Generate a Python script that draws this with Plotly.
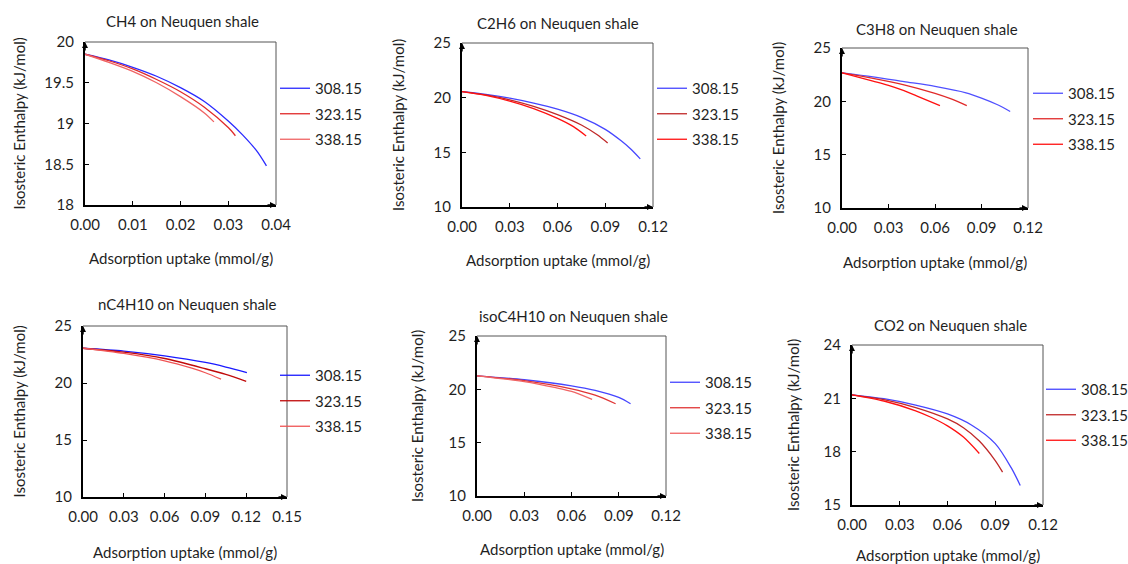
import plotly.graph_objects as go

W, H = 1128, 564

temperatures = ["308.15", "323.15", "338.15"]

# ---- CH4 ----
ch4_x_308 = [0, 0.005, 0.01, 0.015, 0.02, 0.025, 0.03, 0.033, 0.036, 0.038]
ch4_y_308 = [19.85, 19.78, 19.69, 19.58, 19.44, 19.27, 19.03, 18.86, 18.66, 18.48]
ch4_x_323 = [0, 0.005, 0.01, 0.015, 0.02, 0.025, 0.03, 0.0315]
ch4_y_323 = [19.85, 19.77, 19.67, 19.54, 19.39, 19.20, 18.95, 18.85]
ch4_x_338 = [0, 0.005, 0.01, 0.015, 0.02, 0.025, 0.027]
ch4_y_338 = [19.85, 19.75, 19.64, 19.50, 19.33, 19.13, 19.02]

# ---- C2H6 ----
c2h6_x_308 = [0, 0.015, 0.03, 0.045, 0.06, 0.075, 0.09, 0.1, 0.106, 0.112]
c2h6_y_308 = [20.55, 20.3, 19.95, 19.5, 18.95, 18.2, 17.1, 16.05, 15.3, 14.4]
c2h6_x_323 = [0, 0.015, 0.03, 0.045, 0.06, 0.075, 0.085, 0.0915]
c2h6_y_323 = [20.55, 20.25, 19.8, 19.2, 18.45, 17.5, 16.6, 15.85]
c2h6_x_338 = [0, 0.015, 0.03, 0.045, 0.06, 0.07, 0.078]
c2h6_y_338 = [20.55, 20.2, 19.68, 19.0, 18.1, 17.35, 16.5]

# ---- C3H8 ----
c3h8_x_308 = [0, 0.02, 0.04, 0.06, 0.08, 0.09, 0.1, 0.1085]
c3h8_y_308 = [22.67, 22.3, 21.85, 21.4, 20.8, 20.3, 19.7, 19.05]
c3h8_x_323 = [0, 0.02, 0.04, 0.06, 0.07, 0.0805]
c3h8_y_323 = [22.67, 22.15, 21.55, 20.75, 20.25, 19.6]
c3h8_x_338 = [0, 0.02, 0.03, 0.04, 0.05, 0.0632]
c3h8_y_338 = [22.67, 21.9, 21.5, 21.0, 20.4, 19.6]

# ---- nC4H10 ----
nc4_x_308 = [0, 0.03, 0.06, 0.09, 0.105, 0.1205]
nc4_y_308 = [23.05, 22.8, 22.38, 21.8, 21.4, 20.92]
nc4_x_323 = [0, 0.03, 0.06, 0.09, 0.105, 0.12]
nc4_y_323 = [23.05, 22.7, 22.15, 21.25, 20.75, 20.14]
nc4_x_338 = [0, 0.03, 0.06, 0.08, 0.09, 0.1015]
nc4_y_338 = [23.05, 22.6, 21.95, 21.3, 20.9, 20.34]

# ---- isoC4H10 ----
ic4_x_308 = [0, 0.03, 0.06, 0.075, 0.09, 0.0975]
ic4_y_308 = [21.27, 20.9, 20.33, 19.9, 19.24, 18.65]
ic4_x_323 = [0, 0.03, 0.06, 0.075, 0.088]
ic4_y_323 = [21.27, 20.82, 20.05, 19.45, 18.65]
ic4_x_338 = [0, 0.03, 0.05, 0.06, 0.0731]
ic4_y_338 = [21.27, 20.72, 20.15, 19.8, 19.05]

# ---- CO2 ----
co2_x_308 = [0, 0.02, 0.04, 0.06, 0.075, 0.09, 0.1, 0.1057]
co2_y_308 = [21.2, 20.98, 20.62, 20.12, 19.5, 18.45, 17.1, 16.1]
co2_x_323 = [0, 0.02, 0.04, 0.06, 0.07, 0.08, 0.09, 0.0946]
co2_y_323 = [21.2, 20.93, 20.48, 19.84, 19.35, 18.6, 17.5, 16.85]
co2_x_338 = [0, 0.02, 0.04, 0.05, 0.06, 0.07, 0.08]
co2_y_338 = [21.2, 20.85, 20.3, 19.92, 19.45, 18.82, 17.9]

titles = ["CH4 on Neuquen shale", "C2H6 on Neuquen shale", "C3H8 on Neuquen shale",
          "nC4H10 on Neuquen shale", "isoC4H10 on Neuquen shale", "CO2 on Neuquen shale"]
x_ranges = [(0, 0.04), (0, 0.12), (0, 0.12), (0, 0.15), (0, 0.12), (0, 0.12)]
x_dticks = [0.01, 0.03, 0.03, 0.03, 0.03, 0.03]
y_ranges = [(18, 20), (10, 25), (10, 25), (10, 25), (10, 25), (15, 24)]
y_dticks = [0.5, 5, 5, 5, 5, 3]

series = [
    [(ch4_x_308, ch4_y_308), (ch4_x_323, ch4_y_323), (ch4_x_338, ch4_y_338)],
    [(c2h6_x_308, c2h6_y_308), (c2h6_x_323, c2h6_y_323), (c2h6_x_338, c2h6_y_338)],
    [(c3h8_x_308, c3h8_y_308), (c3h8_x_323, c3h8_y_323), (c3h8_x_338, c3h8_y_338)],
    [(nc4_x_308, nc4_y_308), (nc4_x_323, nc4_y_323), (nc4_x_338, nc4_y_338)],
    [(ic4_x_308, ic4_y_308), (ic4_x_323, ic4_y_323), (ic4_x_338, ic4_y_338)],
    [(co2_x_308, co2_y_308), (co2_x_323, co2_y_323), (co2_x_338, co2_y_338)],
]

# pixel geometry of each panel: plot box (left, top, right, bottom), title centre,
# y-title x, x-title y, legend text start x and middle row y
panels = [
    dict(box=(85, 42, 276, 205), title=(182, 21), ytitle=18, xtitle=258, leg=(315, 114)),
    dict(box=(462, 43, 653, 207), title=(558, 23), ytitle=398, xtitle=260, leg=(692, 114)),
    dict(box=(842, 48, 1028, 208), title=(937, 29), ytitle=778, xtitle=262, leg=(1068, 119)),
    dict(box=(83, 326, 287, 497), title=(187, 304), ytitle=18, xtitle=552, leg=(315, 401)),
    dict(box=(477, 336, 666, 496), title=(573, 316), ytitle=417, xtitle=549, leg=(705, 408)),
    dict(box=(852, 345, 1043, 505), title=(950, 325), ytitle=793, xtitle=555, leg=(1081, 415)),
]
palettes = [
    ["#2a2aff", "#e02a2a", "#f06464"],
    ["#4646ff", "#c02828", "#ff1010"],
    ["#5050ff", "#e02a2a", "#ff1010"],
    ["#1a1aff", "#c00a0a", "#f05555"],
    ["#4646ff", "#e03535", "#f06464"],
    ["#4646ff", "#c02828", "#ff1010"],
]

FONT = "Lato, 'Open Sans', sans-serif"
TXT = "#1f1f1f"

fig = go.Figure()
layout = dict(
    width=W, height=H, margin=dict(l=0, r=0, t=0, b=0, autoexpand=False),
    paper_bgcolor="white", plot_bgcolor="white",
    font=dict(family=FONT, size=14, color=TXT),
    annotations=[], shapes=[],
)

for i, p in enumerate(panels):
    n = i + 1
    sfx = "" if n == 1 else str(n)
    xa, ya = "x" + sfx, "y" + sfx
    legname = "legend" + sfx
    l, t, r, b = p["box"]
    for j, (xs, ys) in enumerate(series[i]):
        fig.add_trace(go.Scatter(
            x=xs, y=ys, mode="lines", name=temperatures[j],
            line=dict(color=palettes[i][j], width=1.3, shape="spline", smoothing=0.8),
            xaxis=xa, yaxis=ya, legend=legname, legendgroup=f"g{n}{j}",
        ))
    layout["xaxis" + sfx] = dict(
        domain=[l / W, r / W], anchor=ya, range=list(x_ranges[i]), dtick=x_dticks[i],
        tick0=0, tickformat=".2f", showgrid=False, zeroline=False, automargin=False,
        showline=True, linecolor="black", linewidth=2, mirror=False,
        ticks="inside", ticklen=4, tickwidth=1, tickcolor="black",
        tickfont=dict(size=15, color=TXT), ticklabelstandoff=5,
    )
    layout["yaxis" + sfx] = dict(
        domain=[1 - b / H, 1 - t / H], anchor=xa, range=list(y_ranges[i]), dtick=y_dticks[i],
        tick0=y_ranges[i][0], showgrid=False, zeroline=False, automargin=False,
        showline=True, linecolor="black", linewidth=2, mirror=False,
        ticks="inside", ticklen=4, tickwidth=1, tickcolor="black",
        tickfont=dict(size=15, color=TXT), ticklabelstandoff=6,
    )
    # thin frame on the top and right sides
    layout["shapes"].append(dict(
        type="path", xref=xa + " domain", yref=ya + " domain",
        path="M0,1 L1,1 L1,0", line=dict(color="#555555", width=1),
    ))
    # arrow tips at the ends of both axes
    layout["annotations"].append(dict(
        xref=xa + " domain", yref=ya + " domain", x=0, y=1, ax=0, ay=10,
        text="", showarrow=True, arrowhead=2, arrowsize=0.8, arrowwidth=1.5,
        arrowcolor="black",
    ))
    layout["annotations"].append(dict(
        xref=xa + " domain", yref=ya + " domain", x=1, y=0, ax=-10, ay=0,
        text="", showarrow=True, arrowhead=2, arrowsize=0.8, arrowwidth=1.5,
        arrowcolor="black",
    ))
    tx, ty = p["title"]
    layout["annotations"].append(dict(
        xref="paper", yref="paper", x=tx / W, y=1 - ty / H, text=titles[i],
        showarrow=False, xanchor="center", yanchor="middle",
        font=dict(size=15, color=TXT),
    ))
    layout["annotations"].append(dict(
        xref="paper", yref="paper", x=p["ytitle"] / W, y=1 - ((t + b) / 2) / H,
        text="Isosteric Enthalpy (kJ/mol)", textangle=-90, showarrow=False,
        xanchor="center", yanchor="middle", font=dict(size=15, color=TXT),
    ))
    layout["annotations"].append(dict(
        xref="paper", yref="paper", x=((l + r) / 2) / W, y=1 - p["xtitle"] / H,
        text="Adsorption uptake (mmol/g)", showarrow=False,
        xanchor="center", yanchor="middle", font=dict(size=15, color=TXT),
    ))
    lx, ly = p["leg"]
    layout[legname] = dict(
        x=(lx - 40) / W, y=1 - ly / H, xanchor="left", yanchor="middle",
        bgcolor="rgba(0,0,0,0)", borderwidth=0, traceorder="grouped",
        tracegroupgap=3, itemwidth=30, font=dict(size=15, color=TXT),
    )

fig.update_layout(**layout)
fig.write_html("out.html")
